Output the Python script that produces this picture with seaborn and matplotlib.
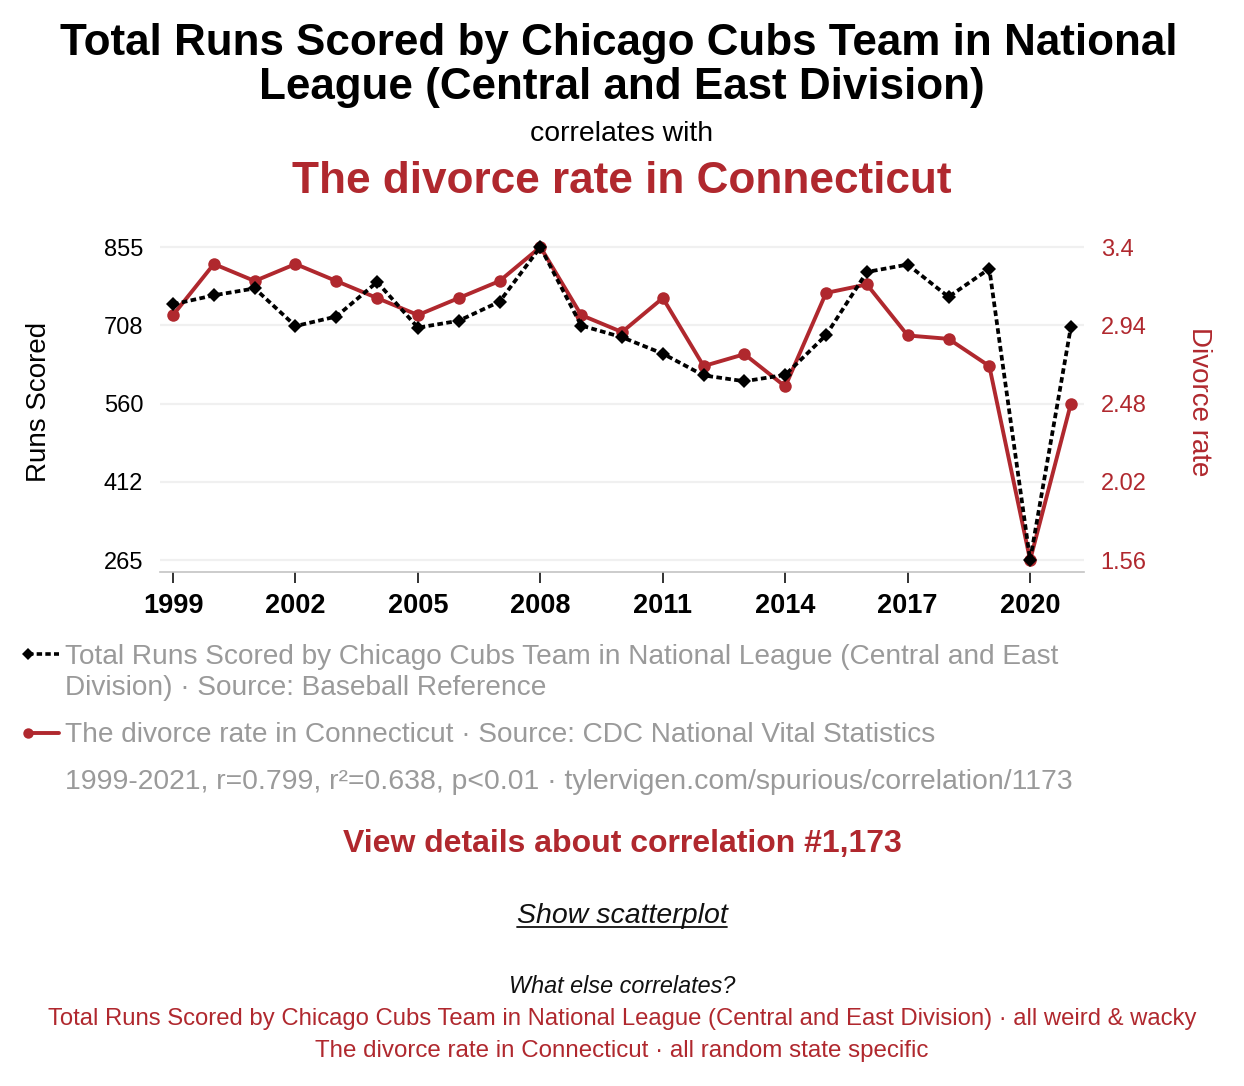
import matplotlib
matplotlib.use("Agg")
import matplotlib.pyplot as plt
from matplotlib.lines import Line2D
import seaborn as sns
import pandas as pd

# data
years = list(range(1999, 2022))
runs_scored = [747, 764, 777, 706, 724, 789, 703, 716, 752, 855, 707, 685,
               654, 613, 602, 614, 689, 808, 822, 761, 814, 265, 705]
divorce_rate = [3.0, 3.3, 3.2, 3.3, 3.2, 3.1, 3.0, 3.1, 3.2, 3.4, 3.0, 2.9,
                3.1, 2.7, 2.77, 2.58, 3.13, 3.18, 2.88, 2.86, 2.7, 1.56, 2.48]

left_ticks = [265, 412.5, 560, 707.5, 855]
left_labels = ["265", "412", "560", "708", "855"]
right_ticks = [1.56, 2.02, 2.48, 2.94, 3.4]
right_labels = ["1.56", "2.02", "2.48", "2.94", "3.4"]
year_ticks = [1999, 2002, 2005, 2008, 2011, 2014, 2017, 2020]

RED = "#b0282e"
GRAY = "#9a9a9a"
DOTS = (0, (1.5, 0.9))

df = pd.DataFrame({"year": years, "runs": runs_scored, "divorce": divorce_rate})

sns.set_theme(style="white")
plt.rcParams["font.family"] = ["Liberation Sans", "DejaVu Sans"]
plt.rcParams["text.color"] = "black"

W, H = 1244, 1086
fig = plt.figure(figsize=(W / 100, H / 100), dpi=100)


def fy(px):
    return 1 - px / H


ax = fig.add_axes([160 / W, fy(572), (1084 - 160) / W, (572 - 237) / H])
ax2 = ax.twinx()

# divorce rate (right axis)
sns.lineplot(data=df, x="year", y="divorce", ax=ax2, color=RED, linewidth=2.8,
             marker="o", markersize=9, markeredgewidth=0)
# runs scored (left axis), drawn on top
sns.lineplot(data=df, x="year", y="runs", ax=ax, color="black", linewidth=2.7,
             linestyle=DOTS, marker="D", markersize=7.5, markeredgewidth=0)
ax.set_zorder(ax2.get_zorder() + 1)
ax.patch.set_visible(False)

ax.set_xlim(1998.68, 2021.32)
ax.set_ylim(242.4, 873.9)
ax2.set_ylim(1.4895, 3.4588)

ax.set_yticks(left_ticks)
ax.set_yticklabels(left_labels)
ax2.set_yticks(right_ticks)
ax2.set_yticklabels(right_labels)
ax.set_xticks(year_ticks)
ax.set_xticklabels([str(y) for y in year_ticks], fontweight="bold")

ax2.grid(axis="y", color="#f0f0f0", linewidth=1.6)
ax.grid(False)

for a in (ax, ax2):
    for s in ("top", "left", "right"):
        a.spines[s].set_visible(False)
ax2.spines["bottom"].set_visible(False)
ax.spines["bottom"].set_color("#c4c4c4")
ax.spines["bottom"].set_linewidth(1.2)

ax.tick_params(axis="x", length=8, width=1.3, color="#222222", pad=7,
               labelsize=19.5, labelcolor="black", bottom=True)
ax.tick_params(axis="y", length=0, pad=12, labelsize=17, labelcolor="black")
ax2.tick_params(axis="y", length=0, pad=12, labelsize=17, labelcolor=RED)

ax.set_xlabel("")
ax.set_ylabel("Runs Scored", fontsize=20, color="black")
ax.yaxis.set_label_coords(-0.117, 0.507)
ax2.set_ylabel("Divorce rate", fontsize=20, color=RED, rotation=270)
ax2.yaxis.set_label_coords(1.138, 0.507)

# header
fig.text(0.497, fy(55), "Total Runs Scored by Chicago Cubs Team in National",
         ha="center", va="baseline", fontsize=31.7, fontweight="bold")
fig.text(0.5, fy(99), "League (Central and East Division)",
         ha="center", va="baseline", fontsize=31.7, fontweight="bold")
fig.text(0.5, fy(141), "correlates with", ha="center", va="baseline", fontsize=20.4)
fig.text(0.5, fy(193), "The divorce rate in Connecticut", ha="center",
         va="baseline", fontsize=31.8, fontweight="bold", color=RED)

# legend, drawn by hand
fig.add_artist(Line2D([28 / W, 59 / W], [fy(654), fy(654)], color="black",
                      linewidth=2.6, linestyle=DOTS, marker="D",
                      markersize=6.5, markevery=[0], markeredgewidth=0))
fig.add_artist(Line2D([28 / W, 59 / W], [fy(733), fy(733)], color=RED,
                      linewidth=2.8, marker="o", markersize=7.5, markevery=[0],
                      markeredgewidth=0))
fig.text(65 / W, fy(664), "Total Runs Scored by Chicago Cubs Team in National League (Central and East",
         va="baseline", fontsize=20.2, color=GRAY)
fig.text(65 / W, fy(695), "Division) · Source: Baseball Reference",
         va="baseline", fontsize=20.2, color=GRAY)
fig.text(65 / W, fy(742), "The divorce rate in Connecticut · Source: CDC National Vital Statistics",
         va="baseline", fontsize=20.2, color=GRAY)
fig.text(65 / W, fy(789), "1999-2021, r=0.799, r²=0.638, p<0.01 · tylervigen.com/spurious/correlation/1173",
         va="baseline", fontsize=20.4, color=GRAY)

# footer
fig.text(0.5, fy(852), "View details about correlation #1,173", ha="center",
         va="baseline", fontsize=23, fontweight="bold", color=RED)
show = fig.text(0.5, fy(923), "Show scatterplot", ha="center", va="baseline",
                fontsize=20.5, style="italic", color="#111111")
fig.text(0.5, fy(993), "What else correlates?", ha="center", va="baseline",
         fontsize=16.8, style="italic", color="#111111")
fig.text(0.5, fy(1025),
         "Total Runs Scored by Chicago Cubs Team in National League (Central and East Division) · all weird & wacky",
         ha="center", va="baseline", fontsize=17.2, color=RED)
fig.text(0.5, fy(1057), "The divorce rate in Connecticut · all random state specific",
         ha="center", va="baseline", fontsize=17.4, color=RED)

# underline for "Show scatterplot"
fig.canvas.draw()
bb = show.get_window_extent().transformed(fig.transFigure.inverted())
fig.add_artist(Line2D([bb.x0, bb.x1], [fy(927), fy(927)], color="#111111",
                      linewidth=1.3))

fig.savefig("out.png", dpi=100, facecolor="white")
